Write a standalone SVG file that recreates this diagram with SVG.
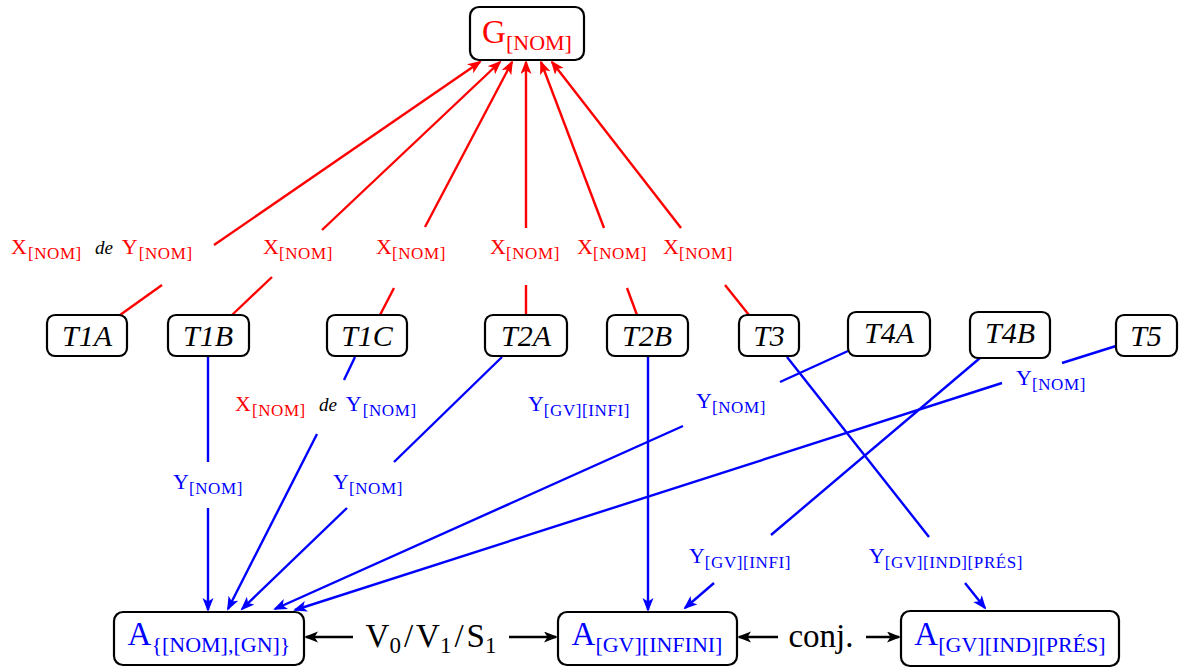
<svg xmlns="http://www.w3.org/2000/svg" width="1183" height="668" viewBox="0 0 1183 668">
<style>
.box{fill:#fff;stroke:#000;stroke-width:2.2}
.t{font-family:"Liberation Serif",serif;font-style:italic;font-size:30px;fill:#000}
.lab{font-family:"Liberation Serif",serif;font-size:22px}
.sub{font-size:17px;letter-spacing:0.6px}
.de{font-style:italic;font-size:19px;fill:#000}
.red{fill:#f00}.blue{fill:#00f}
.big{font-family:"Liberation Serif",serif;font-size:33px}
.bsub{font-size:22px}
.blk{font-family:"Liberation Serif",serif;font-size:33px;fill:#000}
.er{stroke:#f00;stroke-width:2.4;fill:none}
.eb{stroke:#00f;stroke-width:2.4;fill:none}
.ek{stroke:#000;stroke-width:2.4;fill:none}
</style>
<defs>
<marker id="ar" markerUnits="userSpaceOnUse" markerWidth="16" markerHeight="13" refX="12" refY="5.5" orient="auto"><path d="M0,0 L14,5.5 L0,11 L3.5,5.5 Z" fill="#f00"/></marker>
<marker id="ab" markerUnits="userSpaceOnUse" markerWidth="16" markerHeight="13" refX="12" refY="5.5" orient="auto"><path d="M0,0 L14,5.5 L0,11 L3.5,5.5 Z" fill="#00f"/></marker>
<marker id="ak" markerUnits="userSpaceOnUse" markerWidth="16" markerHeight="13" refX="12" refY="5.5" orient="auto"><path d="M0,0 L14,5.5 L0,11 L3.5,5.5 Z" fill="#000"/></marker>
</defs>
<rect width="1183" height="668" fill="#fff"/>

<g id="connectors">
<line class="er" x1="120" y1="315" x2="162" y2="285"/>
<line class="er" x1="214" y1="245" x2="480" y2="62" marker-end="url(#ar)"/>
<line class="er" x1="232" y1="315" x2="272" y2="277"/>
<line class="er" x1="322" y1="230" x2="500" y2="62" marker-end="url(#ar)"/>
<line class="er" x1="380" y1="315" x2="394" y2="288"/>
<line class="er" x1="425" y1="227" x2="512" y2="62" marker-end="url(#ar)"/>
<line class="er" x1="526" y1="315" x2="526" y2="285"/>
<line class="er" x1="526" y1="228" x2="526" y2="62" marker-end="url(#ar)"/>
<line class="er" x1="637" y1="315" x2="627" y2="288"/>
<line class="er" x1="604" y1="228" x2="541" y2="62" marker-end="url(#ar)"/>
<line class="er" x1="749" y1="315" x2="725" y2="285"/>
<line class="er" x1="681" y1="228" x2="552" y2="62" marker-end="url(#ar)"/>
<line class="eb" x1="208" y1="357" x2="208" y2="462"/>
<line class="eb" x1="208" y1="508" x2="208" y2="610" marker-end="url(#ab)"/>
<line class="eb" x1="355" y1="357" x2="344" y2="380"/>
<line class="eb" x1="317" y1="434" x2="228" y2="609" marker-end="url(#ab)"/>
<line class="eb" x1="502" y1="357" x2="394" y2="462"/>
<line class="eb" x1="347" y1="508" x2="242" y2="609" marker-end="url(#ab)"/>
<line class="eb" x1="848" y1="351" x2="780" y2="382"/>
<line class="eb" x1="683" y1="426" x2="275" y2="609" marker-end="url(#ab)"/>
<line class="eb" x1="1116" y1="346" x2="1062" y2="363"/>
<line class="eb" x1="1002" y1="383" x2="295" y2="610" marker-end="url(#ab)"/>
<line class="eb" x1="648" y1="357" x2="648" y2="610" marker-end="url(#ab)"/>
<line class="eb" x1="980" y1="358" x2="771" y2="535"/>
<line class="eb" x1="714" y1="583" x2="685" y2="608" marker-end="url(#ab)"/>
<line class="eb" x1="787" y1="357" x2="929" y2="537"/>
<line class="eb" x1="965" y1="583" x2="985" y2="608" marker-end="url(#ab)"/>
<line class="ek" x1="353" y1="637" x2="306" y2="637" marker-end="url(#ak)"/>
<line class="ek" x1="509" y1="637" x2="556" y2="637" marker-end="url(#ak)"/>
<line class="ek" x1="778" y1="637" x2="739" y2="637" marker-end="url(#ak)"/>
<line class="ek" x1="866" y1="637" x2="899" y2="637" marker-end="url(#ak)"/>
</g>

<g id="edge-labels">
<text class="lab red" x="11" y="254">X<tspan class="sub" dx="1" dy="5">[NOM]</tspan><tspan class="de" dy="-5" dx="13">de</tspan><tspan dx="9">Y</tspan><tspan class="sub" dx="1" dy="5">[NOM]</tspan></text>
<text class="lab red" x="298" y="254" text-anchor="middle">X<tspan class="sub" dy="5">[NOM]</tspan></text>
<text class="lab red" x="411" y="254" text-anchor="middle">X<tspan class="sub" dy="5">[NOM]</tspan></text>
<text class="lab red" x="525" y="254" text-anchor="middle">X<tspan class="sub" dy="5">[NOM]</tspan></text>
<text class="lab red" x="612" y="254" text-anchor="middle">X<tspan class="sub" dy="5">[NOM]</tspan></text>
<text class="lab red" x="698" y="254" text-anchor="middle">X<tspan class="sub" dy="5">[NOM]</tspan></text>

<text class="lab red" x="235" y="411">X<tspan class="sub" dx="1" dy="5">[NOM]</tspan><tspan class="de" dy="-5" dx="13">de</tspan><tspan class="blue" dx="9">Y</tspan><tspan class="sub blue" dx="1" dy="5">[NOM]</tspan></text>
<text class="lab blue" x="208" y="489" text-anchor="middle">Y<tspan class="sub" dy="5">[NOM]</tspan></text>
<text class="lab blue" x="368" y="489" text-anchor="middle">Y<tspan class="sub" dy="5">[NOM]</tspan></text>
<text class="lab blue" x="579" y="411" text-anchor="middle">Y<tspan class="sub" dy="5">[GV][INFI]</tspan></text>
<text class="lab blue" x="731" y="408" text-anchor="middle">Y<tspan class="sub" dy="5">[NOM]</tspan></text>
<text class="lab blue" x="1051" y="385" text-anchor="middle">Y<tspan class="sub" dy="5">[NOM]</tspan></text>
<text class="lab blue" x="740" y="563" text-anchor="middle">Y<tspan class="sub" dy="5">[GV][INFI]</tspan></text>
<text class="lab blue" x="946" y="563" text-anchor="middle">Y<tspan class="sub" dy="5">[GV][IND][PRÉS]</tspan></text>

<text class="blk" x="431" y="647" text-anchor="middle">V<tspan font-size="23" dy="6">0</tspan><tspan dy="-6" dx="3">/</tspan><tspan dx="3">V</tspan><tspan font-size="23" dy="6">1</tspan><tspan dy="-6" dx="3">/</tspan><tspan dx="3">S</tspan><tspan font-size="23" dy="6">1</tspan></text>
<text class="blk" x="821" y="647" text-anchor="middle" font-size="31">conj.</text>
</g>

<g id="G"><rect class="box" x="470" y="7" width="114" height="53" rx="9"/><text class="big red" x="527" y="43" text-anchor="middle">G<tspan class="bsub" dy="7">[NOM]</tspan></text></g>

<g id="T1A"><rect class="box" x="47" y="315" width="80" height="41" rx="8"/><text class="t" x="87" y="346" text-anchor="middle">T1A</text></g>
<g id="T1B"><rect class="box" x="168" y="315" width="81" height="41" rx="8"/><text class="t" x="208" y="346" text-anchor="middle">T1B</text></g>
<g id="T1C"><rect class="box" x="327" y="315" width="80" height="41" rx="8"/><text class="t" x="367" y="346" text-anchor="middle">T1C</text></g>
<g id="T2A"><rect class="box" x="485" y="315" width="82" height="41" rx="8"/><text class="t" x="526" y="346" text-anchor="middle">T2A</text></g>
<g id="T2B"><rect class="box" x="607" y="315" width="81" height="41" rx="8"/><text class="t" x="647" y="346" text-anchor="middle">T2B</text></g>
<g id="T3"><rect class="box" x="739" y="315" width="60" height="41" rx="8"/><text class="t" x="769" y="346" text-anchor="middle">T3</text></g>
<g id="T4A"><rect class="box" x="848" y="312" width="82" height="44" rx="8"/><text class="t" x="889" y="343" text-anchor="middle">T4A</text></g>
<g id="T4B"><rect class="box" x="970" y="312" width="80" height="46" rx="8"/><text class="t" x="1010" y="343" text-anchor="middle">T4B</text></g>
<g id="T5"><rect class="box" x="1116" y="315" width="61" height="41" rx="8"/><text class="t" x="1146" y="346" text-anchor="middle">T5</text></g>

<g id="A1"><rect class="box" x="114" y="612" width="190" height="53" rx="9"/><text class="big blue" x="209" y="645" text-anchor="middle">A<tspan class="bsub" dy="7">{[NOM],[GN]}</tspan></text></g>
<g id="A2"><rect class="box" x="558" y="612" width="179" height="53" rx="9"/><text class="big blue" x="647" y="645" text-anchor="middle">A<tspan class="bsub" dy="7">[GV][INFINI]</tspan></text></g>
<g id="A3"><rect class="box" x="901" y="611" width="218" height="55" rx="9"/><text class="big blue" x="1010" y="645" text-anchor="middle">A<tspan class="bsub" dy="7">[GV][IND][PRÉS]</tspan></text></g>
</svg>
